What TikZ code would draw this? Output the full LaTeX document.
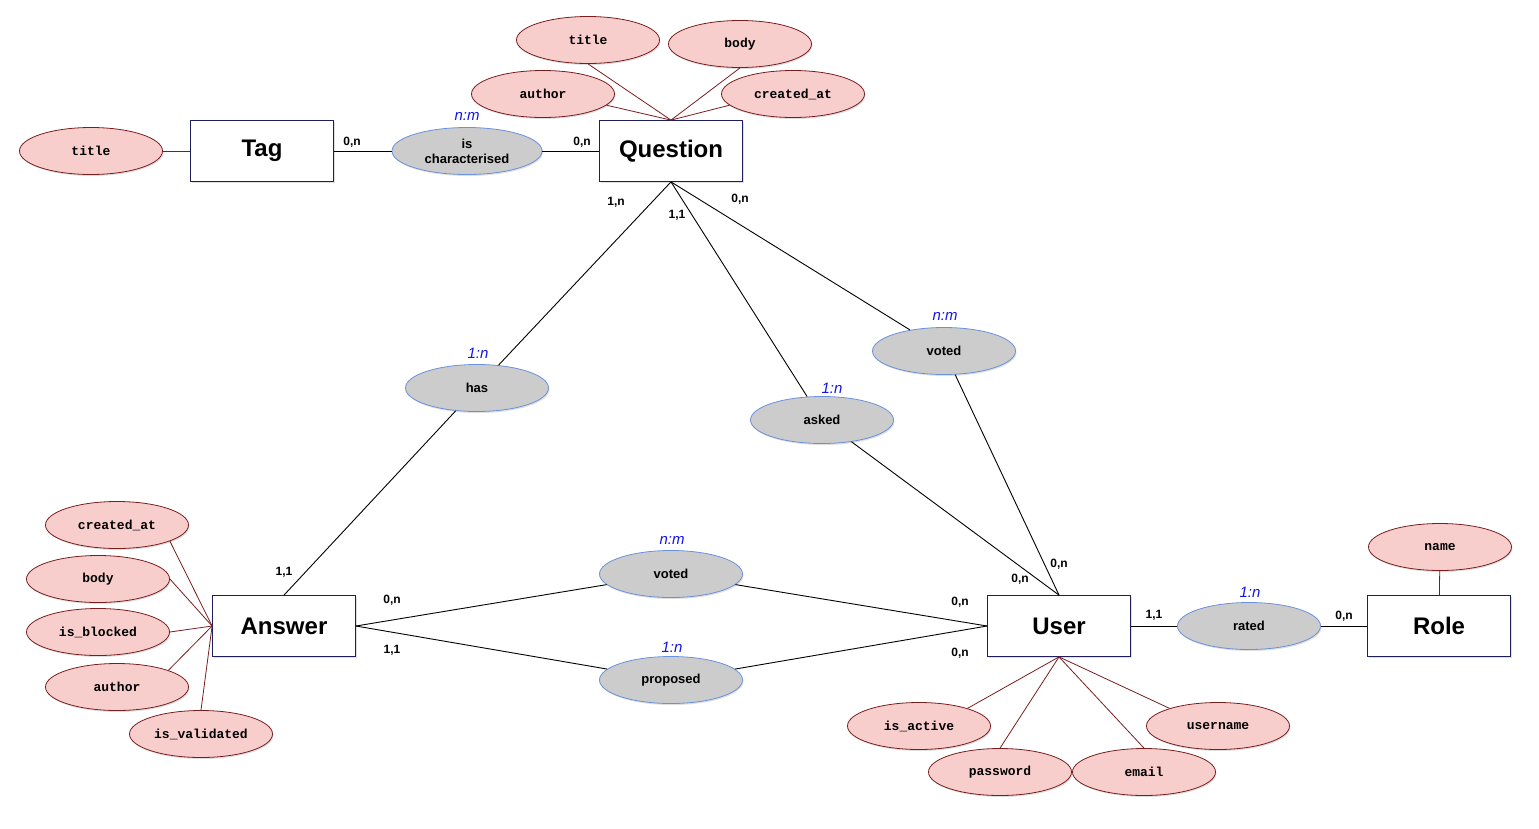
\documentclass[tikz,border=0pt]{standalone}
\usepackage{fontspec}
\setmainfont{Liberation Sans}
\setmonofont{Liberation Mono}
\usetikzlibrary{shapes.geometric, shadows}

\definecolor{entline}{RGB}{30,30,95}
\definecolor{attline}{RGB}{120,30,30}
\definecolor{attfill}{RGB}{248,206,204}
\definecolor{relline}{RGB}{105,145,220}
\definecolor{relfill}{RGB}{204,204,204}
\definecolor{ratioblue}{RGB}{20,20,230}

\tikzset{
  softshadow/.style={drop shadow={opacity=.25, shadow xshift=1pt, shadow yshift=-1.5pt}},
  entity/.style={draw=entline, fill=white, line width=.8pt, minimum width=143pt,
    minimum height=61pt, inner sep=0pt, font=\bfseries\fontsize{24}{26}\selectfont, softshadow},
  attrib/.style={ellipse, draw=attline, fill=attfill, line width=.8pt, minimum width=143pt,
    minimum height=47pt, inner sep=0pt, font=\ttfamily\bfseries\fontsize{13}{14}\selectfont, softshadow},
  relship/.style={ellipse, draw=relline, fill=relfill, line width=.8pt, minimum width=143pt,
    minimum height=47pt, inner sep=0pt, align=center, font=\bfseries\fontsize{13}{15}\selectfont, softshadow},
  card/.style={font=\bfseries\fontsize{12}{12}\selectfont},
  ratio/.style={text=ratioblue, font=\itshape\fontsize{15}{15}\selectfont},
  link/.style={draw=black, line width=.9pt},
  attlink/.style={draw=attline, line width=.8pt}
}

\begin{document}
\begin{tikzpicture}[x=1pt,y=-1pt]
\useasboundingbox (0,0) rectangle (1539,828);
% Entities
\node[entity] (tag)      at (262,151)  {Tag};
\node[entity] (question) at (671,151)  {Question};
\node[entity] (answer)   at (284,626)  {Answer};
\node[entity] (user)     at (1059,626) {User};
\node[entity] (role)     at (1439,626) {Role};
% Relationships
\node[relship, minimum width=150pt] (ischar) at (467,151) {is\\characterised};
\node[relship] (has)      at (477,388)  {has};
\node[relship] (asked)    at (822,420)  {asked};
\node[relship] (votedq)   at (944,351)  {voted};
\node[relship] (voteda)   at (671,574)  {voted};
\node[relship] (proposed) at (671,680)  {proposed};
\node[relship] (rated)    at (1249,626) {rated};
% Attributes
\node[attrib] (tagtitle)   at (91,151)   {title};
\node[attrib] (qtitle)     at (588,40)   {title};
\node[attrib] (qbody)      at (740,44)   {body};
\node[attrib] (qauthor)    at (543,94)   {author};
\node[attrib] (qcreated)   at (793,94)   {created\_at};
\node[attrib] (acreated)   at (117,525)  {created\_at};
\node[attrib] (abody)      at (98,579)   {body};
\node[attrib] (ablocked)   at (98,632)   {is\_blocked};
\node[attrib] (aauthor)    at (117,687)  {author};
\node[attrib] (avalidated) at (201,734)  {is\_validated};
\node[attrib] (uactive)    at (919,726)  {is\_active};
\node[attrib] (upassword)  at (1000,772) {password};
\node[attrib] (uemail)     at (1144,772) {email};
\node[attrib] (uusername)  at (1218,726) {username};
\node[attrib] (rname)      at (1440,547) {name};
% Attribute links
\draw[attlink] (tagtitle) -- (tag);
\foreach \a in {qtitle.south, qbody.south, qauthor.-10, qcreated.190}
  \draw[attlink] (\a) -- (question.north);
\foreach \a in {acreated.-17, abody.east, ablocked.east, aauthor.18, avalidated.north}
  \draw[attlink] (\a) -- (answer.west);
\foreach \a in {uactive.20, upassword.north, uemail.north, uusername.160}
  \draw[attlink] (\a) -- (user.south);
\draw[attlink] (rname) -- (role);
% Relationship links
\draw[link] (tag) -- (ischar) -- (question);
\draw[link] (question.south) -- (has);
\draw[link] (has) -- (answer.north);
\draw[link] (question.south) -- (asked);
\draw[link] (asked) -- (user.north);
\draw[link] (question.south) -- (votedq);
\draw[link] (votedq) -- (user.north);
\draw[link] (answer.east) -- (voteda);
\draw[link] (voteda) -- (user.west);
\draw[link] (answer.east) -- (proposed);
\draw[link] (proposed) -- (user.west);
\draw[link] (user) -- (rated) -- (role);
% Ratios
\node[ratio] (rchar)  at (467,116)  {n:m};
\node[ratio] (rhas)   at (478,353)  {1:n};
\node[ratio] (rasked) at (832,388)  {1:n};
\node[ratio] (rvq)    at (945,316)  {n:m};
\node[ratio] (rva)    at (672,540)  {n:m};
\node[ratio] (rprop)  at (672,647)  {1:n};
\node[ratio] (rrated) at (1250,592) {1:n};
% Cardinalities
\node[card] (c1)  at (352,142)  {0,n};
\node[card] (c2)  at (582,142)  {0,n};
\node[card] (c3)  at (616,202)  {1,n};
\node[card] (c4)  at (677,215)  {1,1};
\node[card] (c5)  at (740,199)  {0,n};
\node[card] (c6)  at (284,572)  {1,1};
\node[card] (c7)  at (392,600)  {0,n};
\node[card] (c8)  at (392,650)  {1,1};
\node[card] (c9)  at (960,602)  {0,n};
\node[card] (c10) at (960,653)  {0,n};
\node[card] (c11) at (1020,579) {0,n};
\node[card] (c12) at (1059,564) {0,n};
\node[card] (c13) at (1154,615) {1,1};
\node[card] (c14) at (1344,616) {0,n};
\end{tikzpicture}
\end{document}
